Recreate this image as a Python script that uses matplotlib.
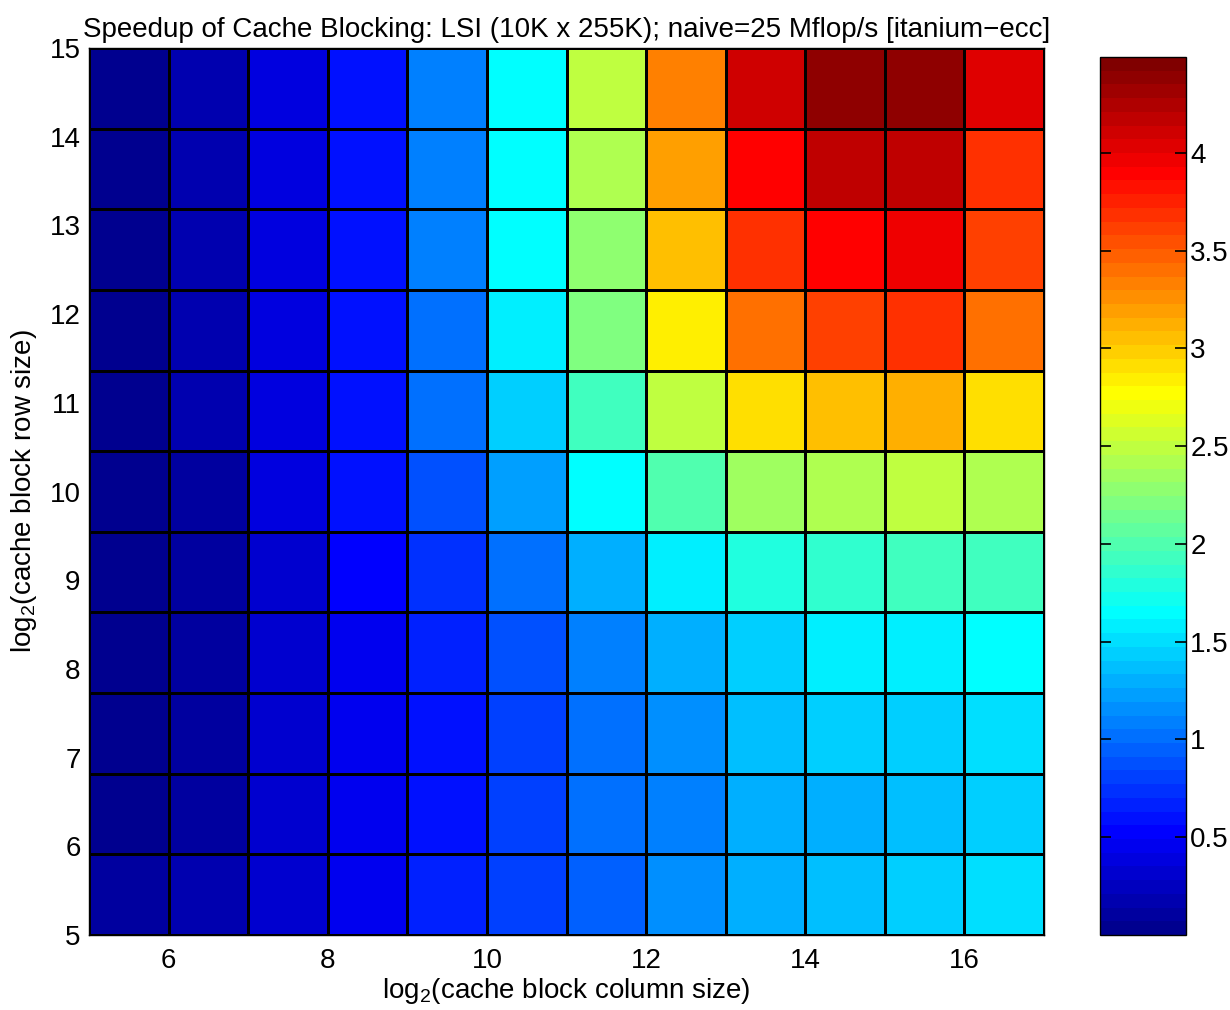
"""Speedup heatmap of cache blocking (LSI matrix, itanium-ecc)."""

import numpy as np
import matplotlib
matplotlib.use("Agg")
import matplotlib.pyplot as plt
from matplotlib.colors import ListedColormap

plt.rcParams["font.family"] = ["Liberation Sans", "DejaVu Sans"]
plt.rcParams["mathtext.fontset"] = "custom"
plt.rcParams["mathtext.rm"] = "Liberation Sans"

# log2 column block sizes (cell edges) and row edges
col_edges = np.arange(5, 18)
row_edges = np.linspace(5, 15, 12)

# speedup over naive, rows listed top -> bottom
speedup_top_down = [
    [0.04, 0.18, 0.39, 0.60, 1.09, 1.66, 2.49, 3.33, 4.11, 4.40, 4.41, 4.04],
    [0.04, 0.18, 0.39, 0.60, 1.09, 1.65, 2.42, 3.19, 3.90, 4.18, 4.18, 3.69],
    [0.04, 0.18, 0.39, 0.60, 1.09, 1.65, 2.28, 3.05, 3.69, 3.90, 3.97, 3.62],
    [0.04, 0.18, 0.39, 0.60, 1.02, 1.58, 2.21, 2.84, 3.41, 3.62, 3.69, 3.41],
    [0.04, 0.18, 0.39, 0.60, 1.02, 1.44, 1.93, 2.49, 2.91, 3.05, 3.12, 2.91],
    [0.04, 0.11, 0.39, 0.60, 0.88, 1.23, 1.65, 2.00, 2.35, 2.42, 2.49, 2.42],
    [0.04, 0.11, 0.32, 0.53, 0.74, 1.02, 1.30, 1.58, 1.79, 1.86, 1.93, 1.93],
    [0.04, 0.11, 0.32, 0.46, 0.67, 0.88, 1.09, 1.30, 1.44, 1.58, 1.58, 1.65],
    [0.04, 0.11, 0.32, 0.46, 0.60, 0.81, 1.02, 1.16, 1.37, 1.44, 1.44, 1.51],
    [0.04, 0.11, 0.32, 0.46, 0.60, 0.81, 1.02, 1.09, 1.32, 1.28, 1.37, 1.44],
    [0.11, 0.18, 0.32, 0.46, 0.67, 0.81, 0.95, 1.16, 1.30, 1.37, 1.44, 1.51],
]
speedup = np.array(speedup_top_down)[::-1]

x_ticks = [6, 8, 10, 12, 14, 16]
y_ticks = list(range(5, 16))
cbar_ticks = [0.5, 1, 1.5, 2, 2.5, 3, 3.5, 4]
cbar_labels = ["0.5", "1", "1.5", "2", "2.5", "3", "3.5", "4"]
clim = (0.0, 4.49)

title = "Speedup of Cache Blocking: LSI (10K x 255K); naive=25 Mflop/s [itanium\u2212ecc]"


def matlab_jet(m=64):
    """Same construction as MATLAB's jet(m)."""
    n = int(np.ceil(m / 4))
    u = np.concatenate([np.arange(1, n + 1) / n, np.ones(n - 1), np.arange(n, 0, -1) / n])
    g = int(np.ceil(n / 2)) - (m % 4 == 1) + np.arange(1, len(u) + 1)
    r = g + n
    b = g - n
    g = g[g <= m]
    r = r[r <= m]
    b = b[b >= 1]
    J = np.zeros((m, 3))
    J[r - 1, 0] = u[:len(r)]
    J[g - 1, 1] = u[:len(g)]
    J[b - 1, 2] = u[len(u) - len(b):]
    return ListedColormap(J)


fig = plt.figure(figsize=(12.3, 10.1), dpi=100)
ax = fig.add_axes([89 / 1230, 75 / 1010, 955 / 1230, 887 / 1010])
cax = fig.add_axes([1100 / 1230, 75 / 1010, 86 / 1230, 878 / 1010])

mesh = ax.pcolormesh(col_edges, row_edges, speedup, cmap=matlab_jet(64),
                     vmin=clim[0], vmax=clim[1],
                     edgecolors="k", linewidth=1.0)

ax.set_xlim(5, 17)
ax.set_ylim(5, 15)
ax.set_xticks(x_ticks)
ax.set_yticks(y_ticks)
ax.tick_params(length=0, labelsize=20, pad=9)
ax.tick_params(axis="y", pad=6)
ax.set_title(title, fontsize=20, pad=8)
ax.set_xlabel(r"log$_2$(cache block column size)", fontsize=20, labelpad=2)
ax.set_ylabel(r"log$_2$(cache block row size)", fontsize=20, labelpad=8)
for sp in ax.spines.values():
    sp.set_linewidth(1.0)

cb = fig.colorbar(mesh, cax=cax, ticks=cbar_ticks)
cb.ax.set_yticklabels(cbar_labels)
cb.ax.tick_params(direction="in", length=8, width=1.2, labelsize=20,
                  left=True, right=True, pad=3)
cb.outline.set_linewidth(1.0)

fig.savefig("out.png", dpi=100)
